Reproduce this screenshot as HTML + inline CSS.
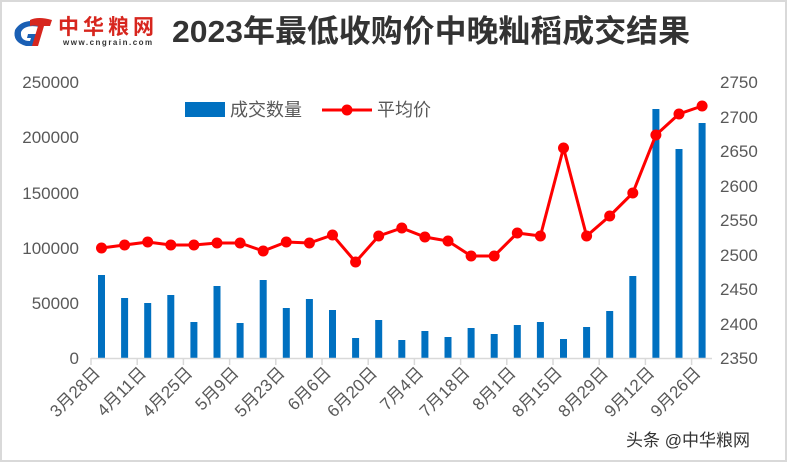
<!DOCTYPE html>
<html><head><meta charset="utf-8"><style>
body{margin:0;background:#fff}
svg text{font-family:"Liberation Sans","Noto Sans CJK SC",sans-serif}
</style></head><body>
<svg width="787" height="462" xmlns="http://www.w3.org/2000/svg">
<rect x="1" y="1" width="785" height="460" fill="#fff" stroke="#d9d9d9" stroke-width="2"/>
<!-- logo -->
<path d="M40 22 Q22 18 15 30 Q12 42 26 46 L34 46 L38 34 L28 34 L27 38 L31 38 L30 41 Q20 41 21 32 Q25 24 40 27 Z" fill="#1a5fb4"/>
<path d="M30 20 Q38 16 52 20 L50 26 L44 26 L38 46 L32 46 L38 26 Q34 25 30 26 Z" fill="#d7261e"/>
<text x="58" y="34" font-size="21" font-weight="bold" fill="#d7261e" letter-spacing="4">中华粮网</text>
<text x="63" y="45" font-size="8" font-weight="bold" fill="#333" letter-spacing="1.5">www.cngrain.com</text>
<text x="172" y="42" font-size="31" font-weight="bold" fill="#333" textLength="518" lengthAdjust="spacingAndGlyphs">2023年最低收购价中晚籼稻成交结果</text>
<!-- axes labels -->
<g font-size="17" fill="#595959" text-anchor="end">
<text x="79" y="364">0</text><text x="79" y="309">50000</text><text x="79" y="254">100000</text>
<text x="79" y="199">150000</text><text x="79" y="143">200000</text><text x="79" y="88">250000</text>
</g>
<g font-size="17" fill="#595959">
<text x="720" y="364">2350</text><text x="720" y="330">2400</text><text x="720" y="295">2450</text>
<text x="720" y="261">2500</text><text x="720" y="226">2550</text><text x="720" y="192">2600</text>
<text x="720" y="157">2650</text><text x="720" y="123">2700</text><text x="720" y="88">2750</text>
</g>
<!-- bars -->
<g fill="#0070c0" id="bars"></g>
<line x1="91" y1="358.5" x2="712" y2="358.5" stroke="#d9d9d9" stroke-width="1.5"/>
<g id="ticks" stroke="#d9d9d9" stroke-width="1.5"></g>
<polyline id="ln" fill="none" stroke="#ff0000" stroke-width="3"/>
<g id="mk" fill="#ff0000"></g>
<g id="lbl" font-size="17" fill="#595959"></g>
<!-- legend -->
<rect x="185" y="102" width="40" height="15" fill="#0070c0"/>
<text x="230" y="116" font-size="18" fill="#595959">成交数量</text>
<line x1="322" y1="110" x2="372" y2="110" stroke="#ff0000" stroke-width="3"/>
<circle cx="347" cy="110" r="5.5" fill="#ff0000"/>
<text x="377" y="116" font-size="18" fill="#595959">平均价</text>
<text x="626" y="446" font-size="17" fill="#333">头条 @中华粮网</text>
</svg>
<script>
var tops=[275,298,303,295,322,286,323,280,308,299,310,338,320,340,331,337,328,334,325,322,339,327,311,276,109,149,123];
var ly=[248,245,242,245,245,243,243,251,242,243,235,262,236,228,237,241,256,256,233,236,148,236,216,193,135,114,106];
var ns="http://www.w3.org/2000/svg",b=document.getElementById('bars'),m=document.getElementById('mk'),pts=[];
for(var i=0;i<27;i++){var cx=101.5+23.1*i;
var r=document.createElementNS(ns,'rect');r.setAttribute('x',cx-3.5);r.setAttribute('y',tops[i]);r.setAttribute('width',7);r.setAttribute('height',358-tops[i]);b.appendChild(r);
pts.push(cx+','+ly[i]);var c=document.createElementNS(ns,'circle');c.setAttribute('cx',cx);c.setAttribute('cy',ly[i]);c.setAttribute('r',5.5);m.appendChild(c);}
document.getElementById('ln').setAttribute('points',pts.join(' '));
var t=document.getElementById('ticks'),l=document.getElementById('lbl');
var labs=["3月28日","4月11日","4月25日","5月9日","5月23日","6月6日","6月20日","7月4日","7月18日","8月1日","8月15日","8月29日","9月12日","9月26日"];
for(var k=0;k<14;k++){var x=91+46.2*k;var ln=document.createElementNS(ns,'line');ln.setAttribute('x1',x);ln.setAttribute('x2',x);ln.setAttribute('y1',358);ln.setAttribute('y2',365);t.appendChild(ln);
var tx=document.createElementNS(ns,'text');tx.textContent=labs[k];tx.setAttribute('text-anchor','end');tx.setAttribute('transform','translate('+(x+10)+',374) rotate(-45)');l.appendChild(tx);}
</script>
</body></html>
